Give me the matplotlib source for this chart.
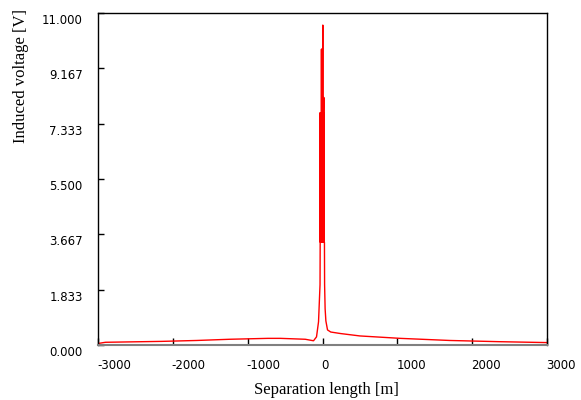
import matplotlib
matplotlib.use("Agg")
import matplotlib.pyplot as plt
import matplotlib.transforms as mtransforms

# ---- data ----
x_left = [-3000, -2900, -2150, -1680, -1240, -730, -560, -230, -120, -80, -53, -33]
v_left = [0.05, 0.09, 0.12, 0.15, 0.19, 0.22, 0.22, 0.19, 0.14, 0.27, 0.77, 2.0]

x_peak = [-31, -30, -28, -26, -24, -22, -20, -18, -16, -14, -12, -10, -8, -6, -4, -2,
          0, 2, 4, 6, 8, 10, 12, 14, 16, 18, 20, 22, 24, 26]
v_peak = [3.4, 7.7, 3.4, 7.7, 3.4, 7.7, 3.4, 7.7, 3.4, 9.8, 3.4, 9.8, 3.4, 7.7, 3.4, 7.7,
          3.4, 7.7, 10.6, 3.4, 7.7, 3.4, 7.7, 3.4, 7.7, 8.2, 3.4, 7.7, 3.4, 3.4]

x_right = [28, 35, 45, 67, 110, 240, 500, 1040, 1700, 2360, 3000]
v_right = [2.0, 1.2, 0.8, 0.5, 0.43, 0.38, 0.3, 0.22, 0.15, 0.11, 0.08]

x_ticks = [-3000, -2000, -1000, 0, 1000, 2000, 3000]
x_tick_labels = ["-3000", "-2000", "-1000", "0", "1000", "2000", "3000"]
y_ticks = [0.0, 1.833, 3.667, 5.5, 7.333, 9.167, 11.0]
y_tick_labels = ["0.000", "1.833", "3.667", "5.500", "7.333", "9.167", "11.000"]

x_all = x_left + x_peak + x_right
v_all = v_left + v_peak + v_right

fig = plt.figure(figsize=(5.81, 4.00), dpi=100)
ax = fig.add_axes([98 / 581, 55 / 400, 449 / 581, 332 / 400])

ax.plot(x_all, v_all, color="#ff0000", linewidth=1.0)

ax.set_xlim(-3000, 3000)
ax.set_ylim(0, 11)

ax.set_xticks(x_ticks)
ax.set_xticklabels(x_tick_labels, fontsize=8.5, family="DejaVu Sans", color="black")
ax.set_yticks(y_ticks)
ax.set_yticklabels(y_tick_labels, fontsize=8.5, family="DejaVu Sans", color="black")

ax.tick_params(axis="x", direction="in", length=5, width=1, color="black", pad=10)
ax.tick_params(axis="y", direction="in", length=4, width=1, color="black", pad=11)

# label offsets as in the reference (x labels start at tick, y labels slightly below)
dx = mtransforms.ScaledTranslation(-1 / 100, 0, fig.dpi_scale_trans)
for lab in ax.get_xticklabels():
    lab.set_horizontalalignment("left")
    lab.set_transform(lab.get_transform() + dx)
dy = mtransforms.ScaledTranslation(0, -6 / 100, fig.dpi_scale_trans)
for lab in ax.get_yticklabels():
    lab.set_transform(lab.get_transform() + dy)

for side in ["left", "top", "right"]:
    ax.spines[side].set_color("black")
    ax.spines[side].set_linewidth(1.0)
ax.spines["bottom"].set_color("#808080")
ax.spines["bottom"].set_linewidth(1.5)

fig.text(21 / 581, 1 - 76 / 400, "Induced voltage [V]", rotation=90, ha="center", va="center",
         fontsize=12, family="Liberation Serif")
fig.text(326 / 581, 1 - 390 / 400, "Separation length [m]", ha="center", va="center",
         fontsize=12, family="Liberation Serif")

fig.savefig("out.png", dpi=100)
